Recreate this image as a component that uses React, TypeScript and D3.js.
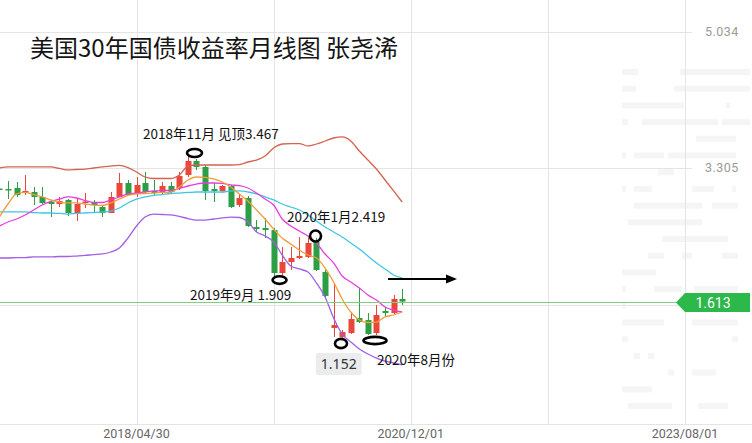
import * as d3 from "d3";
import React, { useEffect, useRef } from "react";

const W = 752;
const H = 443;

// monthly candles (index 0 is cut off at the left edge, index 47 = 2020/11)
const opens = [
  3.045, 3.039, 3.052, 2.988, 3.001, 2.938, 2.874, 2.849, 2.9, 2.735, 2.868, 2.874,
  2.811, 2.735, 2.938, 3.115, 2.976, 3.115, 3.014, 2.988, 3.077, 3.052, 3.216, 3.394,
  3.318, 3.039, 3.014, 3.077, 2.836, 2.925, 2.558, 2.545, 2.52, 1.975, 2.114, 2.165,
  2.178, 2.368, 1.988, 1.278, 1.165, 1.215, 1.405, 1.38, 1.215, 1.494, 1.468, 1.646,
];
const highs = [
  3.052, 3.14, 3.128, 3.216, 3.064, 3.064, 2.887, 2.938, 2.912, 2.925, 2.988, 2.9,
  2.836, 3.001, 3.242, 3.153, 3.191, 3.254, 3.153, 3.128, 3.128, 3.254, 3.467, 3.419,
  3.343, 3.115, 3.09, 3.09, 2.976, 2.95, 2.646, 2.672, 2.545, 2.304, 2.304, 2.431,
  2.431, 2.419, 2.013, 1.848, 1.253, 1.468, 1.785, 1.468, 1.57, 1.544, 1.697, 1.772,
];
const lows = [
  3.026, 2.912, 2.938, 2.963, 2.836, 2.849, 2.684, 2.811, 2.697, 2.634, 2.798, 2.748,
  2.684, 2.735, 2.938, 2.963, 2.938, 2.988, 2.963, 2.963, 2.988, 3.026, 3.191, 3.28,
  2.9, 2.874, 2.988, 2.798, 2.811, 2.558, 2.494, 2.418, 1.909, 1.95, 2.013, 2.152,
  2.165, 2.0, 1.671, 1.164, 1.152, 1.202, 1.342, 1.19, 1.19, 1.43, 1.456, 1.57,
];
const closes = [
  3.039, 3.026, 2.963, 3.014, 2.938, 2.862, 2.849, 2.887, 2.735, 2.849, 2.881, 2.836,
  2.735, 2.938, 3.115, 2.963, 3.09, 3.001, 2.988, 3.077, 3.001, 3.204, 3.394, 3.318,
  3.014, 3.014, 3.077, 2.811, 2.925, 2.57, 2.532, 2.52, 1.975, 2.114, 2.165, 2.19,
  2.355, 2.013, 1.684, 1.316, 1.228, 1.392, 1.354, 1.202, 1.443, 1.468, 1.646, 1.613,
];

// indicator lines
const bandUpper = [
  3.305, 3.318, 3.318, 3.318, 3.318, 3.318, 3.318, 3.299, 3.28, 3.286, 3.292, 3.305,
  3.318, 3.33, 3.337, 3.311, 3.254, 3.191, 3.172, 3.172, 3.172, 3.216, 3.33, 3.343,
  3.343, 3.343, 3.343, 3.343, 3.349, 3.381, 3.406, 3.457, 3.558, 3.609, 3.615, 3.615,
  3.584, 3.609, 3.647, 3.685, 3.698, 3.647, 3.52, 3.406, 3.292, 3.153, 3.014, 2.874,
];
const maShort = [
  2.684, 2.849, 2.976, 2.995, 2.969, 2.938, 2.9, 2.874, 2.862, 2.862, 2.849, 2.836,
  2.83, 2.862, 2.912, 2.957, 2.976, 2.982, 2.988, 2.995, 3.001, 3.064, 3.153, 3.191,
  3.185, 3.166, 3.128, 3.064, 2.976, 2.887, 2.773, 2.659, 2.532, 2.418, 2.342, 2.266,
  2.203, 2.165, 2.038, 1.861, 1.646, 1.481, 1.38, 1.348, 1.354, 1.418, 1.443, 1.481,
];
const maMid = [
  2.57, 2.621, 2.659, 2.71, 2.773, 2.836, 2.881, 2.912, 2.938, 2.925, 2.893, 2.868,
  2.868, 2.9, 2.938, 2.976, 2.988, 3.001, 3.014, 3.02, 3.026, 3.045, 3.077, 3.102,
  3.115, 3.115, 3.109, 3.09, 3.083, 3.052, 2.988, 2.912, 2.836, 2.659, 2.57, 2.507,
  2.444, 2.355, 2.216, 2.102, 1.937, 1.861, 1.785, 1.697, 1.633, 1.544, 1.506, 1.481,
];
const maLong = [
  2.748, 2.748, 2.748, 2.748, 2.741, 2.735, 2.735, 2.729, 2.722, 2.729, 2.735, 2.741,
  2.748, 2.76, 2.798, 2.862, 2.912, 2.938, 2.957, 2.969, 2.982, 2.988, 2.995, 3.001,
  3.001, 3.001, 3.001, 3.014, 3.014, 3.001, 2.976, 2.938, 2.9, 2.849, 2.811, 2.773,
  2.71, 2.634, 2.558, 2.494, 2.431, 2.355, 2.279, 2.19, 2.102, 2.026, 1.95, 1.912,
];
const bandLower = [
  2.165, 2.165, 2.171, 2.171, 2.178, 2.178, 2.178, 2.184, 2.184, 2.19, 2.197, 2.209,
  2.216, 2.241, 2.292, 2.418, 2.57, 2.684, 2.722, 2.716, 2.71, 2.691, 2.665, 2.646,
  2.646, 2.659, 2.672, 2.684, 2.678, 2.621, 2.494, 2.444, 2.368, 2.203, 2.064, 2.026,
  1.988, 1.848, 1.671, 1.405, 1.202, 1.101, 1.012, 0.949, 0.898, 0.86, 0.835, 0.81,
];

const lastPrice = 1.613;

// axes
const priceTicks = [5.034, 3.305, 1.576];
const priceTickLabels = ["5.034", "3.305"];
const gridIndex = [16, 32, 48, 64, 80];
const dateTickIndex = [16, 48, 80];
const dateTickLabels = ["2018/04/30", "2020/12/01", "2023/08/01"];

// hand-drawn annotations (index / rate where they sit)
const rings = [
  { idx: 22.77, rate: 3.495, rx: 7.5, ry: 4 },
  { idx: 32.69, rate: 1.886, rx: 7, ry: 3.8 },
  { idx: 36.89, rate: 2.444, rx: 5.5, ry: 5.5 },
  { idx: 39.86, rate: 1.082, rx: 6, ry: 4.6 },
  { idx: 43.83, rate: 1.12, rx: 11.5, ry: 3.6 },
];
const notes = [
  { text: "2018年11月 见顶3.467", idx: 16.76, rate: 3.672 },
  { text: "2019年9月 1.909", idx: 22.25, rate: 1.633 },
  { text: "2020年1月2.419", idx: 33.56, rate: 2.621 },
  { text: "2020年8月份", idx: 44.07, rate: 0.81 },
];
const lowNote = { text: "1.152", idx: 39.6, rate: 0.759 };
const arrow = { from: 45.35, to: 53.4, rate: 1.899 };

const title = "美国30年国债收益率月线图 张尧浠";

// faint skyline watermark on the right (bar segments per row, px from its left edge)
const skylineRows = [
  [[0, 16], [58, 128]],
  [[0, 14], [52, 128]],
  [[0, 62], [104, 108]],
  [[0, 6], [20, 96], [100, 128]],
  [[74, 114]],
  [[0, 4], [12, 42], [46, 114]],
  [[36, 52]],
  [[0, 4], [12, 30], [70, 92], [110, 114]],
  [[12, 80], [90, 116]],
  [[6, 80]],
  [[40, 106]],
  [[26, 42], [60, 70], [100, 116]],
  [[0, 34]],
  [[0, 4], [32, 60], [72, 116]],
  [[0, 4]],
  [[0, 42], [70, 116]],
  [[0, 6], [110, 116]],
  [[12, 18], [26, 32]],
  [[46, 52], [70, 94]],
  [[0, 30]],
  [[6, 50], [76, 106]],
];

const UP = "#e8473a";
const DOWN = "#2c9f45";
const lineSeries = [
  { values: bandUpper, color: "#d4624e" },
  { values: bandLower, color: "#a25ee6" },
  { values: maLong, color: "#41c4e6" },
  { values: maMid, color: "#e63ddf" },
  { values: maShort, color: "#f39c3a" },
];

const CJK = "'Noto Sans CJK SC', 'Noto Sans', sans-serif";

export default function App() {
  const svgRef = useRef<SVGSVGElement | null>(null);

  useEffect(() => {
    if (!svgRef.current) return;
    document.body.style.margin = "0";
    const svg = d3.select(svgRef.current);
    svg.selectAll("*").remove();

    const x = d3.scaleLinear().domain([16, 80]).range([136.5, 685]);
    const y = d3.scaleLinear().domain([1.576, 5.034]).range([304.5, 31.5]);

    svg.append("rect").attr("width", W).attr("height", H).attr("fill", "#fff");

    // watermark
    const wm = svg.append("g").attr("fill", "#f5f5f5");
    skylineRows.forEach((row, r) => {
      row.forEach(([a, b]) => {
        wm.append("rect")
          .attr("x", 622 + a)
          .attr("y", 69 + r * 16.7)
          .attr("width", b - a)
          .attr("height", 6);
      });
    });

    // grid
    const grid = svg.append("g").attr("stroke", "#e4e4e4").attr("stroke-width", 1);
    gridIndex.forEach((g) => {
      grid
        .append("line")
        .attr("x1", Math.round(x(g)) + 0.5)
        .attr("x2", Math.round(x(g)) + 0.5)
        .attr("y1", 0)
        .attr("y2", 424);
    });
    priceTicks.forEach((p) => {
      grid
        .append("line")
        .attr("x1", 0)
        .attr("x2", 692)
        .attr("y1", Math.round(y(p)) + 0.5)
        .attr("y2", Math.round(y(p)) + 0.5);
    });
    grid.append("line").attr("x1", 0).attr("x2", W).attr("y1", 424.5).attr("y2", 424.5);

    priceTickLabels.forEach((t, i) => {
      svg
        .append("text")
        .attr("x", 705)
        .attr("y", y(priceTicks[i]))
        .attr("dy", "0.35em")
        .attr("fill", "#9a9a9a")
        .style("font-family", "Roboto, sans-serif")
        .style("font-size", "12.5px")
        .style("letter-spacing", "0.5px")
        .text(t);
    });

    dateTickLabels.forEach((t, i) => {
      svg
        .append("text")
        .attr("x", x(dateTickIndex[i]))
        .attr("y", 438)
        .attr("text-anchor", "middle")
        .attr("fill", "#666")
        .style("font-family", "Roboto, sans-serif")
        .style("font-size", "12.5px")
        .text(t);
    });

    // candles
    const candles = svg.append("g");
    opens.forEach((o, i) => {
      const c = closes[i];
      const color = c >= o ? UP : DOWN;
      const cx = Math.round(x(i));
      candles
        .append("line")
        .attr("x1", cx + 0.5)
        .attr("x2", cx + 0.5)
        .attr("y1", y(highs[i]))
        .attr("y2", y(lows[i]))
        .attr("stroke", color)
        .attr("stroke-width", 1);
      const top = y(Math.max(o, c));
      const h = Math.max(1.5, y(Math.min(o, c)) - top);
      candles
        .append("rect")
        .attr("x", cx - 2.5)
        .attr("y", top)
        .attr("width", 6)
        .attr("height", h)
        .attr("fill", color);
    });

    // indicator lines
    const line = d3
      .line<number>()
      .x((_, i) => x(i))
      .y((d) => y(d))
      .curve(d3.curveMonotoneX);
    lineSeries.forEach((s) => {
      svg
        .append("path")
        .attr("d", line(s.values))
        .attr("fill", "none")
        .attr("stroke", s.color)
        .attr("stroke-width", 1.3);
    });

    // last price line + tag
    const py = Math.round(y(lastPrice)) + 0.5;
    svg
      .append("line")
      .attr("x1", 0)
      .attr("x2", 678)
      .attr("y1", py)
      .attr("y2", py)
      .attr("stroke", "#7fcf7f")
      .attr("stroke-width", 1);
    svg
      .append("path")
      .attr("d", `M676,${py} L685,${py - 9.5} L750,${py - 9.5} L750,${py + 9.5} L685,${py + 9.5} Z`)
      .attr("fill", "#2db84c");
    svg
      .append("text")
      .attr("x", 713)
      .attr("y", py)
      .attr("dy", "0.36em")
      .attr("text-anchor", "middle")
      .attr("fill", "#fff")
      .style("font-family", "Roboto, sans-serif")
      .style("font-size", "14px")
      .text(lastPrice.toFixed(3));

    // title
    svg
      .append("text")
      .attr("x", 30)
      .attr("y", 57)
      .attr("fill", "#151515")
      .style("font-family", CJK)
      .style("font-size", "24px")
      .text(title);

    // annotations
    rings.forEach((r) => {
      svg
        .append("ellipse")
        .attr("cx", x(r.idx))
        .attr("cy", y(r.rate))
        .attr("rx", r.rx)
        .attr("ry", r.ry)
        .attr("fill", "none")
        .attr("stroke", "#000")
        .attr("stroke-width", 2.6);
    });

    notes.forEach((n) => {
      svg
        .append("text")
        .attr("x", x(n.idx))
        .attr("y", y(n.rate))
        .attr("fill", "#111")
        .style("font-family", CJK)
        .style("font-size", "13.5px")
        .text(n.text);
    });

    const lx = x(lowNote.idx);
    const ly = y(lowNote.rate);
    svg
      .append("rect")
      .attr("x", lx - 23)
      .attr("y", ly - 16)
      .attr("width", 46)
      .attr("height", 22)
      .attr("rx", 3)
      .attr("fill", "#ebeced");
    svg
      .append("text")
      .attr("x", lx)
      .attr("y", ly)
      .attr("text-anchor", "middle")
      .attr("fill", "#333")
      .style("font-family", "'Noto Sans', sans-serif")
      .style("font-size", "14px")
      .text(lowNote.text);

    const ay = y(arrow.rate);
    const ax2 = x(arrow.to);
    svg
      .append("line")
      .attr("x1", x(arrow.from))
      .attr("x2", ax2 - 8)
      .attr("y1", ay)
      .attr("y2", ay)
      .attr("stroke", "#000")
      .attr("stroke-width", 2);
    svg
      .append("path")
      .attr("d", `M${ax2},${ay} L${ax2 - 11},${ay - 4.5} L${ax2 - 11},${ay + 4.5} Z`)
      .attr("fill", "#000");
  }, []);

  return <svg ref={svgRef} width={W} height={H} style={{ display: "block" }} />;
}
